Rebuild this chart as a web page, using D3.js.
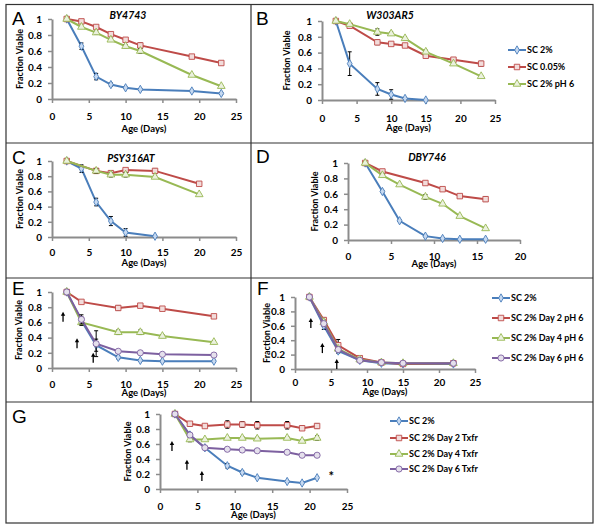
<!DOCTYPE html>
<html>
<head>
<meta charset="utf-8">
<script src="https://cdn.jsdelivr.net/npm/d3@7"></script>
<style>
  body { margin: 0; background: #fff; }
  text { font-family: Lato, "Open Sans", sans-serif; font-weight: bold; fill: #000; }
  text.letter { font-family: "Liberation Sans", Arial, sans-serif; font-weight: normal; }
</style>
</head>
<body>
<div id="chart"></div>
<script>
// ---- data ----
var xTicks25 = [0, 5, 10, 15, 20, 25];
var xTicks20 = [0, 5, 10, 15, 20];
var yTicks = [0, 0.2, 0.4, 0.6, 0.8, 1];

var legendAD = ["SC 2%", "SC 0.05%", "SC 2% pH 6"];
var legendEF = ["SC 2%", "SC 2% Day 2 pH 6", "SC 2% Day 4 pH 6", "SC 2% Day 6 pH 6"];
var legendG = ["SC 2%", "SC 2% Day 2 Txfr", "SC 2% Day 4 Txfr", "SC 2% Day 6 Txfr"];

// A  BY4743
var daysA = [2, 4, 6, 8, 10, 12, 19, 23];
var aSC2 = [1, 0.66, 0.28, 0.18, 0.14, 0.12, 0.10, 0.07];
var aSC2err = [0, 0.04, 0.04, 0.02, 0.01, 0.01, 0.01, 0.01];
var aSC005 = [1, 0.97, 0.90, 0.81, 0.74, 0.67, 0.53, 0.45];
var aSC005err = [0, 0.01, 0.02, 0.02, 0.01, 0.03, 0.01, 0.01];
var aPH6 = [1, 0.90, 0.83, 0.74, 0.66, 0.60, 0.30, 0.16];
var aPH6err = [0, 0.01, 0.02, 0.02, 0.02, 0.03, 0.01, 0.01];

// B  W303AR5
var daysB2 = [2, 4, 8, 10, 12, 15];
var daysB = [2, 4, 8, 10, 12, 15, 19, 23];
var bSC2 = [1, 0.46, 0.14, 0.07, 0.02, 0];
var bSC2err = [0, 0.15, 0.08, 0.06, 0.01, 0];
var bSC005 = [1, 0.94, 0.73, 0.71, 0.69, 0.56, 0.51, 0.46];
var bSC005err = [0, 0.01, 0.03, 0.02, 0.02, 0.02, 0.02, 0.03];
var bPH6 = [1, 0.96, 0.86, 0.84, 0.78, 0.61, 0.46, 0.30];
var bPH6err = [0, 0.01, 0.04, 0.02, 0.02, 0.02, 0.01, 0.01];

// C  PSY316AT
var daysC2 = [2, 4, 6, 8, 10, 14];
var daysC = [2, 6, 8, 10, 14, 20];
var cSC2 = [1, 0.90, 0.46, 0.21, 0.06, 0.01];
var cSC2err = [0, 0.05, 0.05, 0.06, 0.05, 0.01];
var cSC005 = [1, 0.87, 0.84, 0.88, 0.87, 0.70];
var cSC005err = [0, 0.03, 0.03, 0.02, 0.03, 0.02];
var cPH6 = [1, 0.87, 0.82, 0.82, 0.79, 0.56];
var cPH6err = [0, 0.03, 0.03, 0.03, 0.02, 0.01];

// D  DBY746
var daysD = [2, 4, 6, 9, 11, 13, 16];
var daysD005 = [2, 4, 9, 11, 13, 16];
var dSC2 = [1, 0.63, 0.25, 0.05, 0.02, 0.01, 0.01];
var dSC2err = [0, 0.01, 0.01, 0.01, 0.01, 0, 0];
var dSC005 = [1, 0.89, 0.74, 0.66, 0.57, 0.53];
var dSC005err = [0, 0.02, 0.02, 0.02, 0.02, 0.03];
var dPH6 = [1, 0.84, 0.72, 0.56, 0.47, 0.31, 0.15];
var dPH6err = [0, 0.02, 0.01, 0.03, 0.01, 0.01, 0.01];

// E  pH 6 shift
var daysE = [2, 4, 6, 9, 12, 15, 22];
var daysEs = [2, 4, 9, 12, 15, 22];
var eSC2 = [1, 0.62, 0.30, 0.14, 0.10, 0.09, 0.09];
var eSC2err = [0, 0.05, 0.08, 0.02, 0.01, 0.01, 0.01];
var eDay2 = [1, 0.87, 0.79, 0.82, 0.78, 0.68];
var eDay2err = [0, 0.02, 0.03, 0.02, 0.02, 0.02];
var eDay4 = [1, 0.60, 0.47, 0.47, 0.42, 0.34];
var eDay4err = [0, 0.04, 0.03, 0.03, 0.02, 0.02];
var eDay6 = [1, 0.64, 0.32, 0.22, 0.20, 0.18, 0.17];
var eDay6err = [0, 0.06, 0.17, 0.01, 0.02, 0.01, 0.01];
var arrowDaysE = [1.5, 3.4, 5.6];
var arrowTopE = [0.74, 0.39, 0.20];

// F
var daysF = [2, 4, 6, 9, 12, 15, 22];
var fSC2 = [1, 0.60, 0.25, 0.12, 0.08, 0.07, 0.07];
var fSC2err = [0, 0.05, 0.03, 0.01, 0.01, 0.01, 0.01];
var fDay2 = [1, 0.68, 0.33, 0.15, 0.09, 0.07, 0.08];
var fDay2err = [0, 0.03, 0.08, 0.01, 0.01, 0.01, 0.01];
var fDay4 = [1, 0.65, 0.28, 0.13, 0.09, 0.08, 0.08];
var fDay4err = [0, 0.03, 0.03, 0.01, 0.01, 0.01, 0.01];
var fDay6 = [1, 0.63, 0.27, 0.12, 0.09, 0.08, 0.08];
var fDay6err = [0, 0.03, 0.03, 0.01, 0.01, 0.01, 0.01];
var arrowDaysF = [2.2, 3.8, 5.8];
var arrowTopF = [0.71, 0.36, 0.14];

// G  transfer
var daysG = [2, 4, 6, 9, 11, 13, 17, 19, 21];
var gSC2 = [1, 0.72, 0.55, 0.31, 0.22, 0.15, 0.10, 0.08, 0.15];
var gSC2err = [0, 0.02, 0.02, 0.03, 0.02, 0.01, 0.01, 0.01, 0.01];
var gDay2 = [1, 0.87, 0.84, 0.86, 0.86, 0.85, 0.85, 0.81, 0.84];
var gDay2err = [0, 0.03, 0.02, 0.05, 0.04, 0.05, 0.05, 0.03, 0.03];
var gDay4 = [1, 0.66, 0.66, 0.68, 0.68, 0.67, 0.68, 0.64, 0.68];
var gDay4err = [0, 0.03, 0.01, 0.01, 0.02, 0.02, 0.02, 0.02, 0.03];
var gDay6 = [1, 0.72, 0.55, 0.53, 0.52, 0.51, 0.49, 0.45, 0.45];
var gDay6err = [0, 0.01, 0.01, 0.02, 0.02, 0.01, 0.02, 0.01, 0.02];
var arrowDaysG = [1.6, 3.6, 5.6];
var arrowTopG = [0.64, 0.39, 0.24];
var starDayG = 22.9;
var starValG = 0.19;

// ---- styles ----
var styles = {
  blue: { stroke: "#4a7ebb", fill: "#c6d9f1", shape: d3.symbolDiamond, size: 20 },
  red: { stroke: "#be4b48", fill: "#f2dcdb", shape: d3.symbolSquare, size: 30 },
  green: { stroke: "#98b954", fill: "#ebf1de", shape: d3.symbolTriangle, size: 26 },
  purple: { stroke: "#7d60a0", fill: "#e5e0ec", shape: d3.symbolCircle, size: 30 },
};
var axisColor = "#8c8c8c";

var svgWidth = 600;
var svgHeight = 527;

var svg = d3
  .select("#chart")
  .append("svg")
  .attr("width", svgWidth)
  .attr("height", svgHeight);

// frame
var frame = svg.append("g").attr("stroke", "#333").attr("stroke-width", 1.2).attr("fill", "none");
frame.append("rect").attr("x", 6).attr("y", 4.5).attr("width", 587).attr("height", 518.5);
frame.append("line").attr("x1", 251).attr("x2", 251).attr("y1", 4.5).attr("y2", 402);
[143, 278, 402].forEach(function (yy) {
  frame.append("line").attr("x1", 6).attr("x2", 593).attr("y1", yy).attr("y2", yy);
});

var panels = [
  {
    letter: "A", lx: 12, ly: 25, title: "BY4743", tx: 128, ty: 19,
    xr: [52, 236], yr: [99, 19], xMax: 25, xTicks: xTicks25, xPad: 10, ageY: 132, fvX: 20,
    series: [
      ["blue", daysA, aSC2, aSC2err],
      ["red", daysA, aSC005, aSC005err],
      ["green", daysA, aPH6, aPH6err],
    ],
  },
  {
    letter: "B", lx: 256, ly: 25, title: "W303AR5", tx: 390, ty: 19,
    xr: [322, 495], yr: [100, 21], xMax: 25, xTicks: xTicks25, xPad: 11, ageY: 131, fvX: 287,
    series: [
      ["blue", daysB2, bSC2, bSC2err],
      ["red", daysB, bSC005, bSC005err],
      ["green", daysB, bPH6, bPH6err],
    ],
    legend: { names: legendAD, keys: ["blue", "red", "green"], x1: 508, x2: 526, ys: [50, 67, 84] },
  },
  {
    letter: "C", lx: 12, ly: 164, title: "PSY316AT", tx: 131, ty: 162,
    xr: [52, 236], yr: [237, 161], xMax: 25, xTicks: xTicks25, xPad: 8, ageY: 266, fvX: 20,
    series: [
      ["blue", daysC2, cSC2, cSC2err],
      ["red", daysC, cSC005, cSC005err],
      ["green", daysC, cPH6, cPH6err],
    ],
  },
  {
    letter: "D", lx: 256, ly: 163, title: "DBY746", tx: 427, ty: 161,
    xr: [348, 520], yr: [240, 163], xMax: 20, xTicks: xTicks20, xPad: 9, ageY: 267, fvX: 315,
    series: [
      ["blue", daysD, dSC2, dSC2err],
      ["red", daysD005, dSC005, dSC005err],
      ["green", daysD, dPH6, dPH6err],
    ],
  },
  {
    letter: "E", lx: 12, ly: 295,
    xr: [52, 236], yr: [368, 292], xMax: 25, xTicks: xTicks25, xPad: 9, ageY: 396, fvX: 19,
    series: [
      ["blue", daysE, eSC2, eSC2err],
      ["red", daysEs, eDay2, eDay2err],
      ["green", daysEs, eDay4, eDay4err],
      ["purple", daysE, eDay6, eDay6err],
    ],
    arrows: [arrowDaysE, arrowTopE],
  },
  {
    letter: "F", lx: 257, ly: 295,
    xr: [295, 475], yr: [369, 297], xMax: 25, xTicks: xTicks25, xPad: 6, ageY: 395, fvX: 267,
    series: [
      ["blue", daysF, fSC2, fSC2err],
      ["red", daysF, fDay2, fDay2err],
      ["green", daysF, fDay4, fDay4err],
      ["purple", daysF, fDay6, fDay6err],
    ],
    arrows: [arrowDaysF, arrowTopF],
    legend: { names: legendEF, keys: ["blue", "red", "green", "purple"], x1: 492, x2: 510, ys: [298, 318, 338, 358] },
  },
  {
    letter: "G", lx: 12, ly: 423,
    xr: [160, 347], yr: [489, 414], xMax: 25, xTicks: xTicks25, xPad: 10, ageY: 518, fvX: 128,
    series: [
      ["blue", daysG, gSC2, gSC2err],
      ["red", daysG, gDay2, gDay2err],
      ["green", daysG, gDay4, gDay4err],
      ["purple", daysG, gDay6, gDay6err],
    ],
    arrows: [arrowDaysG, arrowTopG],
    star: [starDayG, starValG],
    legend: { names: legendG, keys: ["blue", "red", "green", "purple"], x1: 390, x2: 408, ys: [421, 438, 454, 469] },
  },
];

function marker(g, key, cx, cy) {
  var st = styles[key];
  g.append("path")
    .attr("d", d3.symbol().type(st.shape).size(st.size)())
    .attr("transform", `translate(${cx},${cy})`)
    .attr("fill", st.fill)
    .attr("stroke", st.stroke)
    .attr("stroke-width", 0.9);
}

function styleAxis(ax) {
  ax.select(".domain").attr("stroke", axisColor).attr("stroke-width", 2);
  ax.selectAll(".tick line").attr("stroke", axisColor).attr("stroke-width", 1.5);
  ax.selectAll(".tick text")
    .attr("font-family", "Lato, sans-serif")
    .attr("font-weight", "bold")
    .attr("font-size", 10)
    .attr("fill", "#000");
}

function drawPanel(p) {
  var g = svg.append("g");
  var xScale = d3.scaleLinear().domain([0, p.xMax]).range(p.xr);
  var yScale = d3.scaleLinear().domain([0, 1]).range(p.yr);

  var xAxis = g
    .append("g")
    .attr("transform", `translate(0, ${p.yr[0]})`)
    .call(d3.axisBottom(xScale).tickValues(p.xTicks).tickSize(4).tickSizeOuter(0).tickPadding(p.xPad));
  styleAxis(xAxis);

  var yAxis = g
    .append("g")
    .attr("transform", `translate(${p.xr[0]}, 0)`)
    .call(
      d3.axisLeft(yScale)
        .tickValues(yTicks)
        .tickSize(4)
        .tickSizeOuter(0)
        .tickPadding(6)
        .tickFormat((d) => (d === 0 || d === 1 ? d : d.toFixed(1)))
    );
  styleAxis(yAxis);

  g.append("text")
    .attr("x", (p.xr[0] + p.xr[1]) / 2)
    .attr("y", p.ageY)
    .attr("text-anchor", "middle")
    .attr("font-size", 9.5)
    .text("Age (Days)");

  g.append("text")
    .attr("transform", `translate(${p.fvX + 3}, ${(p.yr[0] + p.yr[1]) / 2}) rotate(-90)`)
    .attr("text-anchor", "middle")
    .attr("font-size", 9)
    .text("Fraction Viable");

  g.append("text")
    .attr("class", "letter")
    .attr("x", p.lx)
    .attr("y", p.ly)
    .attr("font-size", 19)
    .text(p.letter);

  if (p.title) {
    g.append("text")
      .attr("x", p.tx)
      .attr("y", p.ty)
      .attr("text-anchor", "middle")
      .attr("font-style", "italic")
      .attr("font-size", 10.5)
      .text(p.title);
  }

  var line = d3.line();
  p.series.forEach(function (s) {
    var key = s[0], days = s[1], vals = s[2], errs = s[3];
    var st = styles[key];
    var pts = days.map((d, i) => [xScale(d), yScale(vals[i])]);
    g.append("path")
      .attr("d", line(pts))
      .attr("fill", "none")
      .attr("stroke", st.stroke)
      .attr("stroke-width", 2);

    var eb = g.append("g").attr("stroke", "#000").attr("stroke-width", 1);
    days.forEach(function (d, i) {
      if (!errs[i]) return;
      var cx = xScale(d);
      var top = yScale(vals[i] + errs[i]);
      var bot = yScale(Math.max(0, vals[i] - errs[i]));
      eb.append("line").attr("x1", cx).attr("x2", cx).attr("y1", top).attr("y2", bot);
      eb.append("line").attr("x1", cx - 2).attr("x2", cx + 2).attr("y1", top).attr("y2", top);
      eb.append("line").attr("x1", cx - 2).attr("x2", cx + 2).attr("y1", bot).attr("y2", bot);
    });

    pts.forEach((pt) => marker(g, key, pt[0], pt[1]));
  });

  if (p.arrows) {
    var ad = p.arrows[0], at = p.arrows[1];
    ad.forEach(function (d, i) {
      var ax = xScale(d);
      var ay = yScale(at[i]);
      g.append("line")
        .attr("x1", ax).attr("x2", ax)
        .attr("y1", ay + 3).attr("y2", ay + 10)
        .attr("stroke", "#000").attr("stroke-width", 1.3);
      g.append("path")
        .attr("d", `M${ax},${ay} L${ax - 2.2},${ay + 4} L${ax + 2.2},${ay + 4} Z`)
        .attr("fill", "#000");
    });
  }

  if (p.star) {
    g.append("text")
      .attr("x", xScale(p.star[0]))
      .attr("y", yScale(p.star[1]) + 6)
      .attr("text-anchor", "middle")
      .attr("font-size", 13)
      .text("*");
  }

  if (p.legend) {
    var lg = p.legend;
    lg.names.forEach(function (name, i) {
      var key = lg.keys[i];
      var yy = lg.ys[i];
      g.append("line")
        .attr("x1", lg.x1).attr("x2", lg.x2)
        .attr("y1", yy).attr("y2", yy)
        .attr("stroke", styles[key].stroke)
        .attr("stroke-width", 2);
      marker(g, key, (lg.x1 + lg.x2) / 2, yy);
      g.append("text")
        .attr("x", lg.x2 + 1)
        .attr("y", yy + 3)
        .attr("font-size", 9)
        .text(name);
    });
  }
}

panels.forEach(drawPanel);
</script>
</body>
</html>
